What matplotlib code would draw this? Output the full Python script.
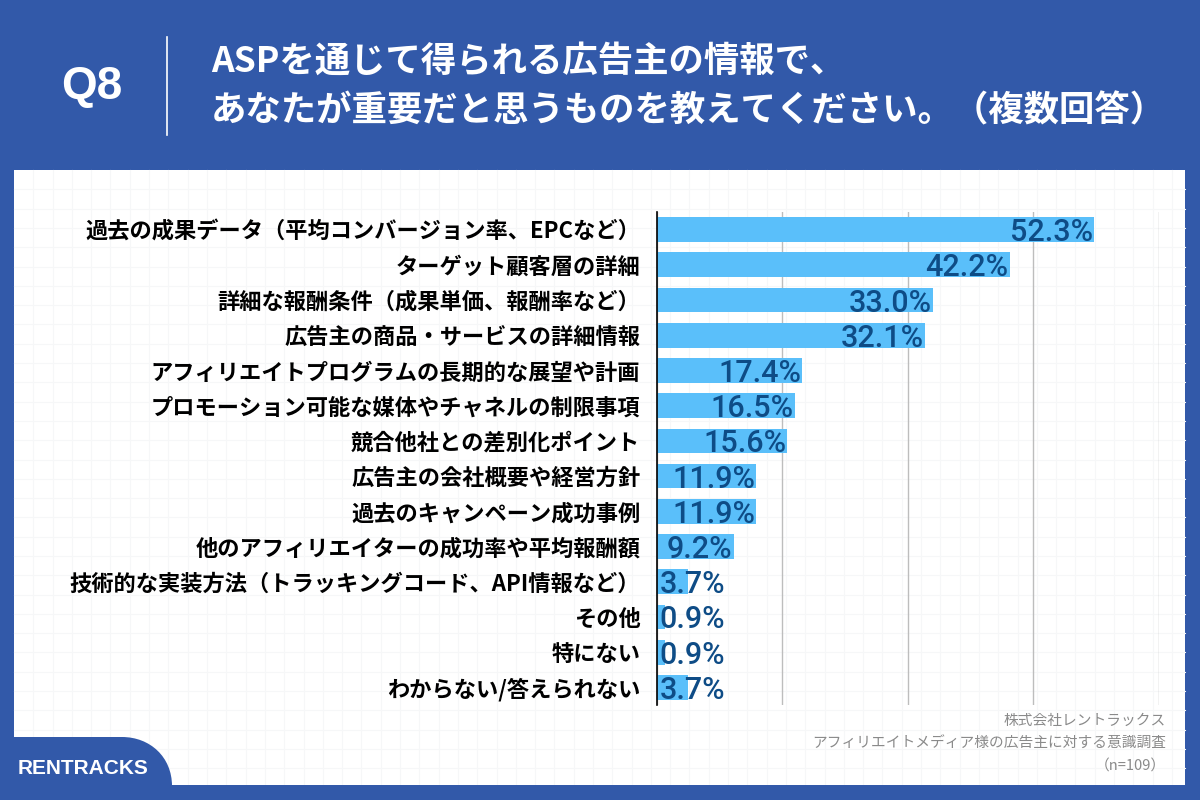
import matplotlib
matplotlib.use("Agg")
import matplotlib.pyplot as plt
from matplotlib.path import Path
from matplotlib.patches import PathPatch, Rectangle
from matplotlib.lines import Line2D
import matplotlib.transforms as mtransforms

categories = [
    "過去の成果データ（平均コンバージョン率、EPCなど）",
    "ターゲット顧客層の詳細",
    "詳細な報酬条件（成果単価、報酬率など）",
    "広告主の商品・サービスの詳細情報",
    "アフィリエイトプログラムの長期的な展望や計画",
    "プロモーション可能な媒体やチャネルの制限事項",
    "競合他社との差別化ポイント",
    "広告主の会社概要や経営方針",
    "過去のキャンペーン成功事例",
    "他のアフィリエイターの成功率や平均報酬額",
    "技術的な実装方法（トラッキングコード、API情報など）",
    "その他",
    "特にない",
    "わからない/答えられない",
]
values = [52.3, 42.2, 33.0, 32.1, 17.4, 16.5, 15.6, 11.9, 11.9, 9.2, 3.7, 0.9, 0.9, 3.7]
x_ticks = [0, 15, 30, 45, 60]

title_q = "Q8"
title_lines = ["ASPを通じて得られる広告主の情報で、",
               "あなたが重要だと思うものを教えてください。（複数回答）"]
source_lines = ["株式会社レントラックス",
                "アフィリエイトメディア様の広告主に対する意識調査",
                "（n=109）"]
brand = "RENTRACKS"

BLUE = "#3259A9"
BAR = "#5ABFFA"
VAL = "#0E4C86"
JP = ["Noto Sans CJK JP", "DejaVu Sans"]

W, H = 1200, 800
fig = plt.figure(figsize=(12, 8), dpi=100)
fig.patch.set_facecolor(BLUE)

# pixel (top-left origin) -> figure transform
px = mtransforms.Affine2D().scale(1 / W, -1 / H).translate(0, 1) + fig.transFigure

# white panel
fig.add_artist(Rectangle((14, 170), 1171, 615, transform=px, facecolor="white",
                         edgecolor="none", zorder=-3))
# faint grid on panel
step = 19.3
x = 14 + step
while x < 1185:
    fig.add_artist(Line2D([x, x], [170, 785], transform=px, color="#F6F7F8", lw=0.8, zorder=-2))
    x += step
y = 170 + step
while y < 785:
    fig.add_artist(Line2D([14, 1185], [y, y], transform=px, color="#F6F7F8", lw=0.8, zorder=-2))
    y += step

# brand tab
verts = [(0, 800), (0, 737), (122, 737),
         (150, 737), (172, 757), (172, 786),
         (172, 800), (0, 800)]
codes = [Path.MOVETO, Path.LINETO, Path.LINETO,
         Path.CURVE4, Path.CURVE4, Path.CURVE4,
         Path.LINETO, Path.CLOSEPOLY]
fig.add_artist(PathPatch(Path(verts, codes), transform=px, facecolor=BLUE,
                         edgecolor="none", zorder=1))
fig.add_artist(Rectangle((0, 785), 1200, 15, transform=px, facecolor=BLUE,
                         edgecolor="none", zorder=1))
fig.text(18, 769, brand, transform=px, color="white", fontsize=15, fontweight="bold",
         family="Liberation Sans", ha="left", va="center", zorder=2)

# header
fig.text(92, 87, title_q, transform=px, color="white", fontsize=33, fontweight="bold",
         family="Liberation Sans", ha="center", va="center")
fig.add_artist(Line2D([167, 167], [37, 135], transform=px, color="white", lw=1.2))
fig.text(211, 62, title_lines[0], transform=px, color="white", fontsize=25.5,
         fontweight="bold", family=JP, ha="left", va="center")
fig.text(211, 111, title_lines[1], transform=px, color="white", fontsize=25.5,
         fontweight="bold", family=JP, ha="left", va="center")

# source
for txt, yy in zip(source_lines, [721, 744, 767]):
    fig.text(1166, yy, txt, transform=px, color="#8A8A8A", fontsize=10.6,
             family=JP, ha="right", va="center")

# axes
ax = fig.add_axes([657 / W, 1 - 705 / H, 501.6 / W, 493 / H])
ax.patch.set_alpha(0)
ypos = list(range(len(categories)))
ax.barh(ypos, values, height=0.7, color=BAR, zorder=2)
ax.set_xlim(0, 60)
ax.set_ylim(len(categories) - 0.5, -0.5)
ax.set_xticks(x_ticks)
ax.set_xticklabels([])
ax.tick_params(axis="x", length=0)
ax.grid(axis="x", color="#BDBDBD", lw=1, zorder=1)
ax.set_axisbelow(True)
for s in ["top", "right", "bottom"]:
    ax.spines[s].set_visible(False)
ax.spines["left"].set_color("black")
ax.spines["left"].set_linewidth(1.2)
ax.spines["left"].set_zorder(3)
ax.set_yticks(ypos)
ax.set_yticklabels(categories, family=JP, fontweight="bold", fontsize=16, color="black")
ax.tick_params(axis="y", length=0, pad=12)

for yv, v in zip(ypos, values):
    label = f"{v:.1f}%"
    if v >= 8:
        ax.annotate(label, (v, yv), xytext=(-1, 0), textcoords="offset points",
                    ha="right", va="center_baseline", color=VAL, fontsize=22,
                    family="Roboto", fontweight="medium", zorder=4)
    else:
        ax.annotate(label, (0, yv), xytext=(2, 0), textcoords="offset points",
                    ha="left", va="center_baseline", color=VAL, fontsize=22,
                    family="Roboto", fontweight="medium", zorder=4)

fig.savefig("out.png", dpi=100, facecolor=fig.get_facecolor())
